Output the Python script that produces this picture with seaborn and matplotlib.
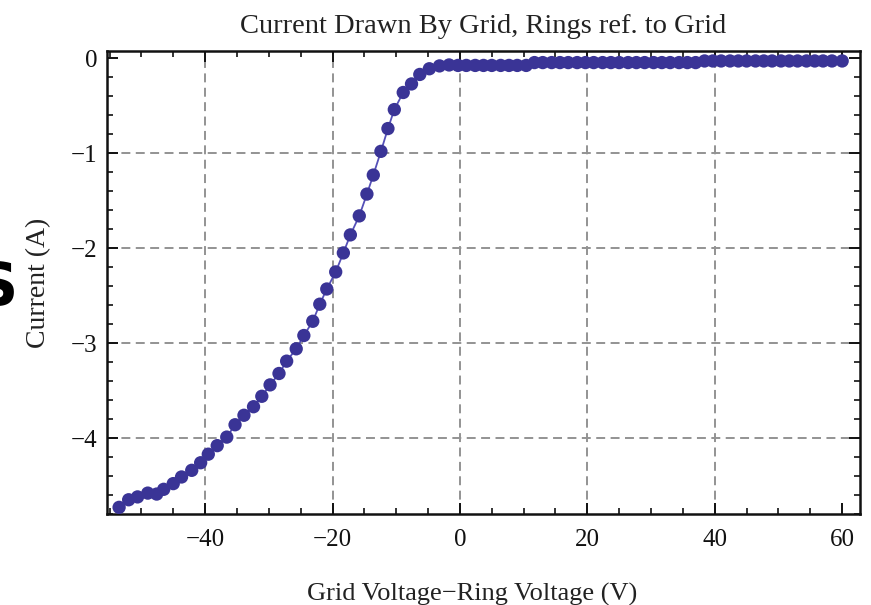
import matplotlib
matplotlib.use("Agg")
import matplotlib.pyplot as plt
from matplotlib.ticker import MultipleLocator, FixedLocator
import seaborn as sns
import pandas as pd

# Grid-minus-ring voltage (V) and current drawn by the grid (A)
voltage = [
    -53.5, -52.0, -50.6, -49.0, -47.6, -46.5, -45.0, -43.7, -42.1, -40.7,
    -39.5, -38.1, -36.6, -35.3, -33.9, -32.4, -31.1, -29.8, -28.4, -27.2,
    -25.7, -24.5, -23.1, -22.0, -20.9, -19.5, -18.3, -17.2, -15.8, -14.6,
    -13.6, -12.4, -11.3, -10.3, -8.9, -7.6, -6.3, -4.8, -3.2, -1.7,
    -0.3, 1.0, 2.4, 3.7, 5.0, 6.4, 7.7, 9.0, 10.4,
    11.7, 13.0, 14.4, 15.7, 17.0, 18.4, 19.7, 21.0, 22.4, 23.7,
    25.0, 26.4, 27.7, 29.0, 30.4, 31.7, 33.0, 34.4, 35.7, 37.0,
    38.4, 39.7, 41.0, 42.4, 43.7, 45.0, 46.4, 47.7, 49.0, 50.4,
    51.7, 53.0, 54.4, 55.7, 57.0, 58.4, 60.0,
]
current = [
    -4.73, -4.65, -4.62, -4.58, -4.59, -4.54, -4.48, -4.41, -4.34, -4.26,
    -4.17, -4.08, -3.99, -3.86, -3.76, -3.67, -3.56, -3.44, -3.32, -3.19,
    -3.06, -2.92, -2.77, -2.59, -2.43, -2.25, -2.05, -1.86, -1.66, -1.43,
    -1.23, -0.98, -0.74, -0.54, -0.36, -0.27, -0.17, -0.11, -0.08, -0.07,
    -0.075, -0.075, -0.075, -0.075, -0.075, -0.075, -0.075, -0.075, -0.075,
    -0.045, -0.045, -0.045, -0.045, -0.045, -0.045, -0.045, -0.045, -0.045, -0.045,
    -0.045, -0.045, -0.045, -0.045, -0.045, -0.045, -0.045, -0.045, -0.045, -0.045,
    -0.028, -0.028, -0.028, -0.028, -0.028, -0.028, -0.028, -0.028, -0.028, -0.028,
    -0.028, -0.028, -0.028, -0.028, -0.028, -0.028, -0.028,
]
x_ticks = [-40, -20, 0, 20, 40, 60]
y_ticks = [0, -1, -2, -3, -4]
grid_x = [-40, -20, 0, 20, 40]
grid_y = [-1, -2, -3, -4]

df = pd.DataFrame({"voltage": voltage, "current": current})

sns.set_style("ticks")
plt.rcParams["font.family"] = ["Liberation Serif", "DejaVu Serif"]
plt.rcParams["axes.unicode_minus"] = True

fig = plt.figure(figsize=(8.71, 6.05), dpi=100)
ax = fig.add_axes([107 / 871, 1 - 514 / 605, (860 - 107) / 871, (514 - 51) / 605])

for gx in grid_x:
    ax.axvline(gx, color="#939393", lw=1.4, dashes=(4.6, 2.8), zorder=0)
for gy in grid_y:
    ax.axhline(gy, color="#939393", lw=1.4, dashes=(4.6, 2.8), zorder=0)

sns.lineplot(data=df, x="voltage", y="current", ax=ax, color="#5550b8",
             lw=1.3, sort=False, zorder=2)
sns.scatterplot(data=df, x="voltage", y="current", ax=ax, color="#3a3496",
                s=92, edgecolor="none", zorder=3)

ax.set_xlim(-55.4, 62.8)
ax.set_ylim(-4.80, 0.077)
ax.xaxis.set_major_locator(FixedLocator(x_ticks))
ax.yaxis.set_major_locator(FixedLocator(y_ticks))
ax.xaxis.set_minor_locator(MultipleLocator(5))
ax.yaxis.set_minor_locator(MultipleLocator(0.2))
ax.tick_params(which="both", direction="in", top=True, right=True,
               colors="#111111", labelsize=18)
ax.tick_params(which="major", length=8, width=1.4)
ax.tick_params(which="minor", length=4.5, width=1.2)
ax.tick_params(axis="x", which="major", pad=11)
ax.tick_params(axis="y", which="major", pad=7)
for sp in ax.spines.values():
    sp.set_linewidth(1.8)
    sp.set_color("#111111")

ax.set_xlabel("Grid Voltage\u2212Ring Voltage (V)", fontsize=19, color="#222222")
ax.xaxis.set_label_coords(0.485, -0.148)
ax.set_ylabel("Current (A)", fontsize=20, labelpad=14, color="#222222")
ax.set_title("Current Drawn By Grid, Rings ref. to Grid", fontsize=20.5,
             pad=13, color="#222222")

fig.text(18 / 871, 1 - 289 / 605, "S", ha="right", va="center",
         fontsize=42, fontweight="bold", family="DejaVu Sans", color="black")

fig.savefig("out.png", dpi=100)
